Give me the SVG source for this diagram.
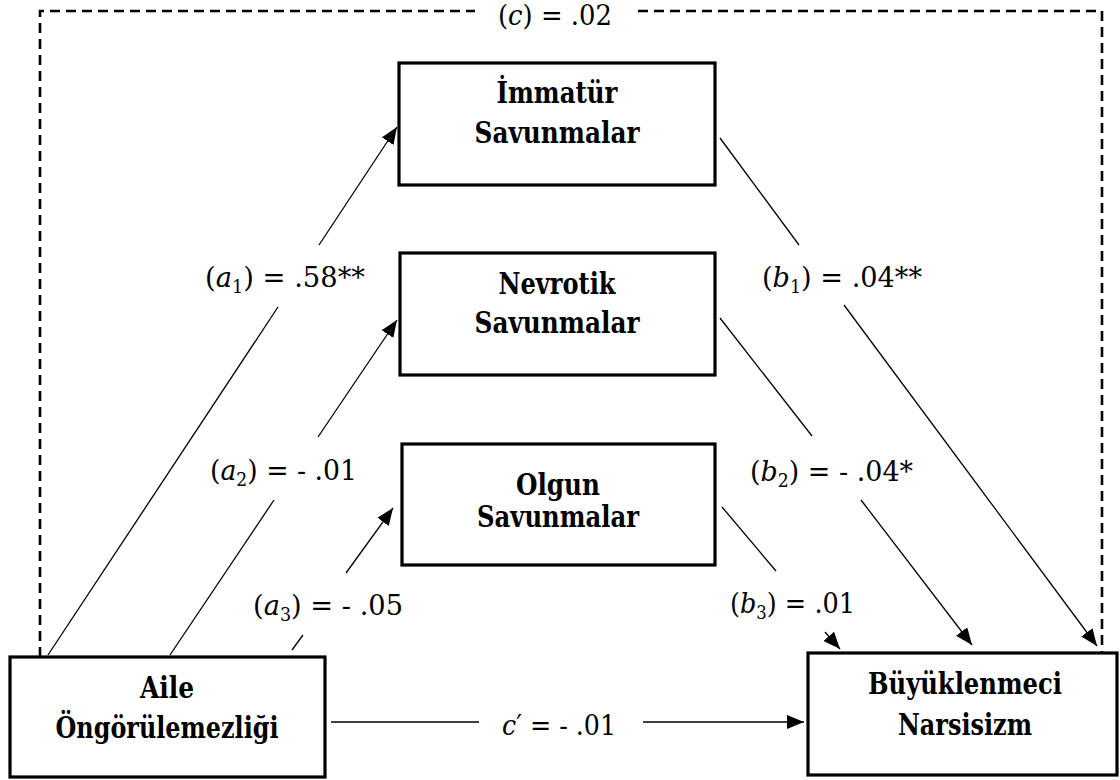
<svg xmlns="http://www.w3.org/2000/svg" width="1120" height="780" viewBox="0 0 1120 780">
<defs>
<marker id="arr" markerUnits="userSpaceOnUse" markerWidth="18" markerHeight="14" refX="17" refY="7" orient="auto">
<path d="M0,0 L17,7 L0,14 Z" fill="#000"/>
</marker>
<style>
.box{fill:#fff;stroke:#000;stroke-width:3.2}
.bt{font-family:"DejaVu Serif",serif;font-weight:bold;font-size:30px;text-anchor:middle;fill:#000}
.ln{stroke:#000;stroke-width:1.3;fill:none}
.dash{stroke:#000;stroke-width:2.6;fill:none;stroke-dasharray:10 6}
.m{font-family:"DejaVu Serif",serif;font-size:28px;fill:#000}
.i{font-style:italic}
.s{font-size:18px}
</style>
</defs>
<rect width="1120" height="780" fill="#fff"/>
<g id="connectors">
<path class="dash" d="M40,657 V11 H475"/>
<path class="dash" d="M638,11 H1102 V653"/>
<line class="ln" x1="48" y1="655" x2="278" y2="307"/>
<line class="ln" x1="319" y1="245" x2="397" y2="127" marker-end="url(#arr)"/>
<line class="ln" x1="170" y1="655" x2="274" y2="500"/>
<line class="ln" x1="318" y1="437" x2="397" y2="320" marker-end="url(#arr)"/>
<line class="ln" x1="292" y1="650" x2="303" y2="635"/>
<line class="ln" x1="346" y1="573" x2="393" y2="508" marker-end="url(#arr)"/>
<line class="ln" x1="720" y1="138" x2="799" y2="245"/>
<line class="ln" x1="844" y1="305" x2="1097" y2="646" marker-end="url(#arr)"/>
<line class="ln" x1="720" y1="318" x2="812" y2="436"/>
<line class="ln" x1="861" y1="500" x2="972" y2="645" marker-end="url(#arr)"/>
<line class="ln" x1="722" y1="507" x2="776" y2="571"/>
<line class="ln" x1="825" y1="632" x2="840" y2="649" marker-end="url(#arr)"/>
<line class="ln" x1="331" y1="722" x2="479" y2="722"/>
<line class="ln" x1="643" y1="722" x2="804" y2="722" marker-end="url(#arr)"/>
<text class="m" x="498" y="25" textLength="114" lengthAdjust="spacingAndGlyphs">(<tspan class="i">c</tspan>) = .02</text>
<text class="m" x="205" y="287" textLength="160" lengthAdjust="spacingAndGlyphs">(<tspan class="i">a</tspan><tspan class="s" dy="6">1</tspan><tspan dy="-6">) = .58**</tspan></text>
<text class="m" x="762" y="287" textLength="160" lengthAdjust="spacingAndGlyphs">(<tspan class="i">b</tspan><tspan class="s" dy="6">1</tspan><tspan dy="-6">) = .04**</tspan></text>
<text class="m" x="210" y="480" textLength="147" lengthAdjust="spacingAndGlyphs">(<tspan class="i">a</tspan><tspan class="s" dy="6">2</tspan><tspan dy="-6">) = - .01</tspan></text>
<text class="m" x="750" y="481" textLength="163" lengthAdjust="spacingAndGlyphs">(<tspan class="i">b</tspan><tspan class="s" dy="6">2</tspan><tspan dy="-6">) = - .04*</tspan></text>
<text class="m" x="253" y="615" textLength="150" lengthAdjust="spacingAndGlyphs">(<tspan class="i">a</tspan><tspan class="s" dy="6">3</tspan><tspan dy="-6">) = - .05</tspan></text>
<text class="m" x="730" y="613" textLength="125" lengthAdjust="spacingAndGlyphs">(<tspan class="i">b</tspan><tspan class="s" dy="6">3</tspan><tspan dy="-6">) = .01</tspan></text>
<text class="m" x="502" y="735" textLength="114" lengthAdjust="spacingAndGlyphs"><tspan class="i">c</tspan>′ = - .01</text>
</g>
<g id="immatur">
<rect class="box" x="399" y="63" width="316" height="122"/>
<text class="bt" x="557" y="103" textLength="121" lengthAdjust="spacingAndGlyphs">İmmatür</text>
<text class="bt" x="557" y="143" textLength="165" lengthAdjust="spacingAndGlyphs">Savunmalar</text>
</g>
<g id="nevrotik">
<rect class="box" x="400" y="253" width="315" height="122"/>
<text class="bt" x="557" y="294" textLength="117" lengthAdjust="spacingAndGlyphs">Nevrotik</text>
<text class="bt" x="557" y="333" textLength="165" lengthAdjust="spacingAndGlyphs">Savunmalar</text>
</g>
<g id="olgun">
<rect class="box" x="402" y="444" width="313" height="121"/>
<text class="bt" x="558" y="495" textLength="84" lengthAdjust="spacingAndGlyphs">Olgun</text>
<text class="bt" x="558" y="527" textLength="162" lengthAdjust="spacingAndGlyphs">Savunmalar</text>
</g>
<g id="aile">
<rect class="box" x="10" y="657" width="315" height="120"/>
<text class="bt" x="167" y="698" textLength="54" lengthAdjust="spacingAndGlyphs">Aile</text>
<text class="bt" x="167" y="738" textLength="223" lengthAdjust="spacingAndGlyphs">Öngörülemezliği</text>
</g>
<g id="buyuklenmeci">
<rect class="box" x="808" y="653" width="309" height="122"/>
<text class="bt" x="965" y="694" textLength="194" lengthAdjust="spacingAndGlyphs">Büyüklenmeci</text>
<text class="bt" x="965" y="735" textLength="134" lengthAdjust="spacingAndGlyphs">Narsisizm</text>
</g>
</svg>
